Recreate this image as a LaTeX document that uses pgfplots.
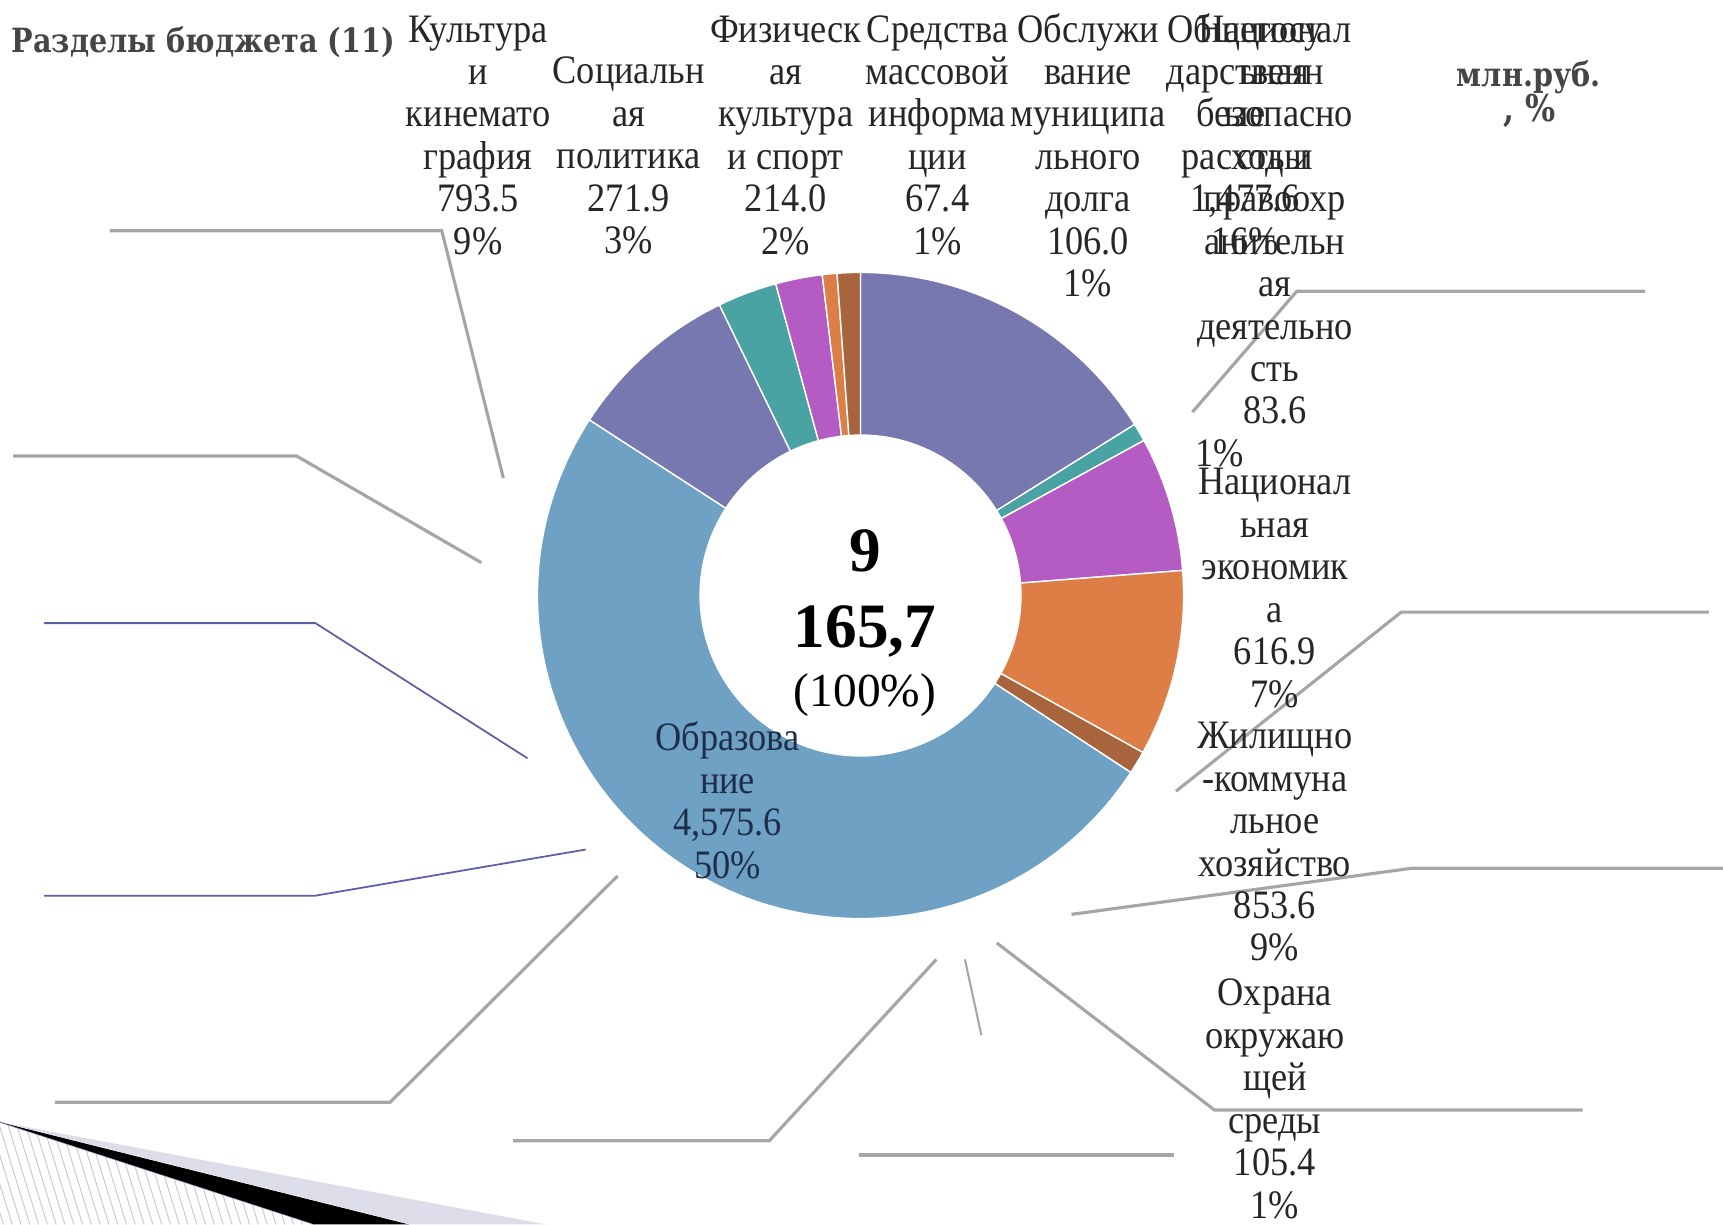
\documentclass[border=0pt]{standalone}
\usepackage{fontspec}
\setmainfont{Liberation Serif}
\newfontfamily\lblf[FakeStretch=0.9]{Liberation Serif}
\newfontfamily\slab[FakeStretch=0.86]{DejaVu Serif}
\usepackage{pgfplots}
\usepackage{pgfplotstable}
\pgfplotsset{compat=1.18}
\usetikzlibrary{calc}

\definecolor{s0}{HTML}{7878B0}
\definecolor{s1}{HTML}{4AA3A3}
\definecolor{s2}{HTML}{B45BC4}
\definecolor{s3}{HTML}{DC7E45}
\definecolor{s4}{HTML}{A8643C}
\definecolor{s5}{HTML}{6FA1C5}
\definecolor{s6}{HTML}{7878B0}
\definecolor{s7}{HTML}{4AA3A3}
\definecolor{s8}{HTML}{B45BC4}
\definecolor{s9}{HTML}{DC7E45}
\definecolor{s10}{HTML}{A8643C}
\definecolor{leadgray}{HTML}{A6A6A6}
\definecolor{leadblue}{HTML}{5B5EA8}
\definecolor{lav}{HTML}{DDDDEA}
\definecolor{lc}{HTML}{262626}
\definecolor{navytext}{HTML}{1E2E48}
\definecolor{ttlc}{HTML}{454545}

% values in million rubles, clockwise from 12 o'clock
\pgfplotstableread{
v
1477.6
83.6
616.9
853.6
105.4
4575.6
793.5
271.9
214.0
67.4
106.0
}\budget

\newcommand\lbl{\lblf\fontsize{11.5}{13}\selectfont}
\newcommand\lab[4][lc]{%
  \foreach \t [count=\k from 0] in {#4}{%
    \node[text=#1, font=\lbl, anchor=mid, inner sep=0pt] at (#2,{#3+3+\k*38.6}) {\t};}}

\begin{document}
\begin{tikzpicture}
\useasboundingbox (0,0) rectangle (17.248,12.254);
\begin{axis}[x=0.011cm, y=0.011cm, xmin=0, xmax=1568, ymin=0, ymax=1114,
  enlargelimits=false, hide axis, clip=false]
  \def\tot{0}
  \pgfplotsforeachungrouped \i in {0,...,10}{%
    \pgfplotstablegetelem{\i}{v}\of\budget
    \pgfmathsetmacro\tot{\tot+\pgfplotsretval}%
  }
  \def\ang{90}
  \pgfplotsforeachungrouped \i in {0,...,10}{%
    \pgfplotstablegetelem{\i}{v}\of\budget
    \pgfmathsetmacro\angb{\ang-\pgfplotsretval/\tot*360}%
    \edef\doit{\noexpand\fill[s\i, draw=white, line width=0.4pt]
      ($(axis cs:783,572)+(\ang:3.234cm)$)
      arc[start angle=\ang, end angle=\angb, radius=3.234cm]
      -- ($(axis cs:783,572)+(\angb:1.606cm)$)
      arc[start angle=\angb, end angle=\ang, radius=1.606cm] -- cycle;}%
    \doit
    \let\ang\angb
  }
\end{axis}

\begin{scope}[yshift=12.254cm, x=0.011cm, y=-0.011cm]
  % slide decoration
  \begin{scope}
    \clip (0,1021) -- (286,1114) -- (0,1114) -- cycle;
    \foreach \k in {-20,...,45} \draw[gray!40, line width=0.3pt] (\k*8,1000) -- ++(40,130);
  \end{scope}
  \draw[leadblue!60, line width=0.4pt] (0,1021) -- (286,1114);
  \fill[black] (0,1021) -- (372,1114) -- (286,1114) -- cycle;
  \fill[lav] (0,1021) -- (496,1114) -- (372,1114) -- cycle;

  % leader lines
  \begin{scope}[leadgray, line width=0.9pt]
    \draw (100,210) -- (402,210) -- (458,435);
    \draw (12,415) -- (270,415) -- (438,512);
    \draw (50,1003) -- (355,1003) -- (562,797);
    \draw (467,1038) -- (700,1038) -- (852,873);
    \draw[line width=0.6pt] (878,873) -- (893,942);
    \draw (782,1051) -- (1068,1051);
    \draw (907,858) -- (1105,1010) -- (1440,1010);
    \draw (975,832) -- (1285,790) -- (1568,790);
    \draw (1070,720) -- (1275,557) -- (1555,557);
    \draw (1085,375) -- (1180,265) -- (1497,265);
  \end{scope}
  \begin{scope}[leadblue, line width=0.5pt]
    \draw (40,567) -- (287,567) -- (480,690);
    \draw (40,815) -- (287,815) -- (533,773);
  \end{scope}

  % titles
  \node[anchor=west, inner sep=0pt, text=ttlc, font=\slab\bfseries\fontsize{9.5}{11}\selectfont] at (10,38) {Разделы бюджета (11)};
  \node[inner sep=0pt, text=ttlc, font=\slab\bfseries\fontsize{9.5}{11}\selectfont] at (1391,70) {млн.руб.};
  \node[inner sep=0pt, text=ttlc, font=\slab\bfseries\fontsize{10.5}{12}\selectfont] at (1392,101) {, \%};

  % centre total
  \node[anchor=base, font=\bfseries\fontsize{18}{20}\selectfont] at (787,520) {9};
  \node[anchor=base, font=\bfseries\fontsize{18}{20}\selectfont] at (787,589) {165,7};
  \node[anchor=base, font=\fontsize{13.5}{15}\selectfont] at (787,643) {(100\%)};

  % data labels
  \lab{435}{28}{Культура, и, кинемато, графия, 793.5, 9\%}
  \lab{572}{66}{Социальн, ая, политика, 271.9, 3\%}
  \lab{715}{28}{Физическ, ая, культура, и спорт, 214.0, 2\%}
  \lab{853}{28}{Средства, массовой, информа, ции, 67.4, 1\%}
  \lab{990}{28}{Обслужи, вание, муниципа, льного, долга, 106.0, 1\%}
  \lab{1133}{28}{Общегосу, дарственн, ые, расходы, {1,477.6}, 16\%}
  \lab{1160}{28}{Национал, ьная, безопасно, сть и, правоохр, анительн, ая, деятельно, сть, 83.6}
  \lab{1110}{414}{1\%}
  \lab{1160}{440}{Национал, ьная, экономик, а, 616.9, 7\%}
  \lab{1160}{671}{Жилищно, -коммуна, льное, хозяйство, 853.6, 9\%}
  \lab{1160}{905}{Охрана, окружаю, щей, среды, 105.4, 1\%}
  \lab[navytext]{662}{673}{Образова, ние, {4,575.6}, 50\%}
\end{scope}
\end{tikzpicture}
\end{document}
